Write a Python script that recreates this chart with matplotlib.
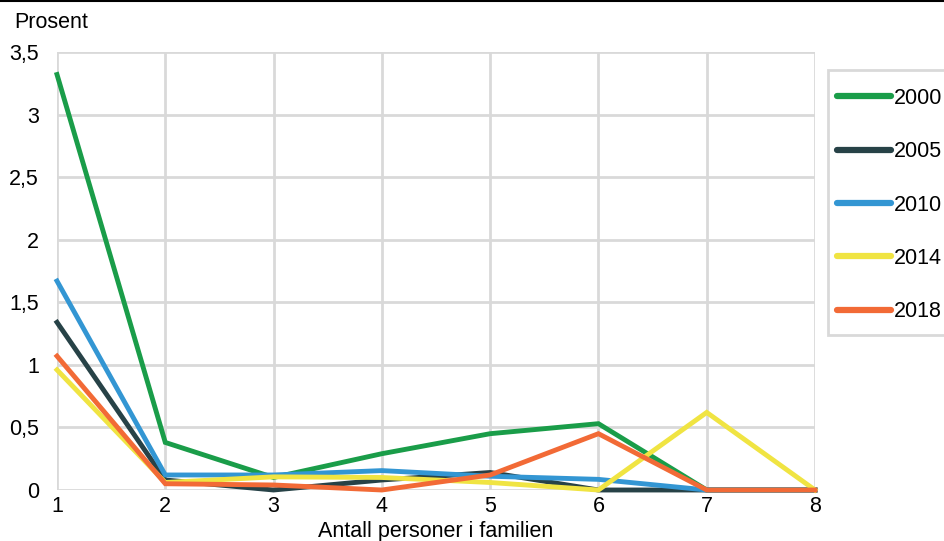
import matplotlib
matplotlib.use("Agg")
import matplotlib.pyplot as plt
from matplotlib.lines import Line2D
from matplotlib.patches import Rectangle
from matplotlib.ticker import FuncFormatter

plt.rcParams['font.family'] = ['Liberation Sans', 'DejaVu Sans']

persons = [1, 2, 3, 4, 5, 6, 7, 8]
years = ["2000", "2005", "2010", "2014", "2018"]
v2000 = [3.32, 0.38, 0.10, 0.29, 0.45, 0.53, 0.0, 0.0]
v2005 = [1.34, 0.08, 0.0, 0.08, 0.14, 0.0, 0.0, 0.0]
v2010 = [1.67, 0.12, 0.12, 0.155, 0.11, 0.085, 0.0, 0.0]
v2014 = [0.96, 0.06, 0.105, 0.10, 0.06, 0.0, 0.62, 0.0]
v2018 = [1.07, 0.05, 0.04, 0.0, 0.12, 0.45, 0.0, 0.0]
series = [v2000, v2005, v2010, v2014, v2018]
colors = ["#1a9d49", "#274247", "#3396d3", "#f0e442", "#f26a36"]
yticks = [0, 0.5, 1, 1.5, 2, 2.5, 3, 3.5]

FS = 15.5
W, H = 944, 541
fig = plt.figure(figsize=(W / 100, H / 100), dpi=100)
ax = fig.add_axes([57 / W, (H - 490) / H, (815 - 57) / W, (490 - 52) / H])

for vals, c, lab in zip(series, colors, years):
    ax.plot(persons, vals, color=c, lw=3.5, label=lab, solid_joinstyle='miter', clip_on=False, zorder=3)

ax.set_xlim(1, 8)
ax.set_ylim(0, 3.5)
ax.set_xticks(persons)
ax.set_yticks(yticks)
ax.yaxis.set_major_formatter(FuncFormatter(lambda v, p: f"{v:g}".replace(".", ",")))
ax.grid(True, color="#d9d9d9", lw=2)
ax.set_axisbelow(True)
for s in ax.spines.values():
    s.set_visible(False)
ax.tick_params(length=0, labelsize=FS, colors="black")
ax.tick_params(axis='x', pad=4)
ax.tick_params(axis='y', pad=13)

ax.set_xlabel("Antall personer i familien", fontsize=FS, labelpad=3)
fig.text(14 / W, 1 - 23 / H, "Prosent", fontsize=FS, va='center', ha='left')

# legend frame
fig.add_artist(Rectangle((828 / W, 1 - 335 / H), (960 - 828) / W, (335 - 70) / H,
                         transform=fig.transFigure, facecolor='white', edgecolor='#d9d9d9',
                         lw=2, clip_on=False, zorder=1))
leg = fig.legend(loc='upper left', bbox_to_anchor=(837 / W, 1 - 88 / H), fontsize=FS,
                 frameon=False, handlelength=2.5, handletextpad=0.15,
                 labelspacing=1.5, borderpad=0, borderaxespad=0)
leg.set_zorder(5)
for h in leg.get_lines():
    h.set_linewidth(4.5)
    h.set_solid_capstyle('round')

fig.add_artist(Line2D([0, 1], [1 - 0.5 / H, 1 - 0.5 / H], color='black', lw=1.5, transform=fig.transFigure))

fig.savefig("out.png", dpi=100)
